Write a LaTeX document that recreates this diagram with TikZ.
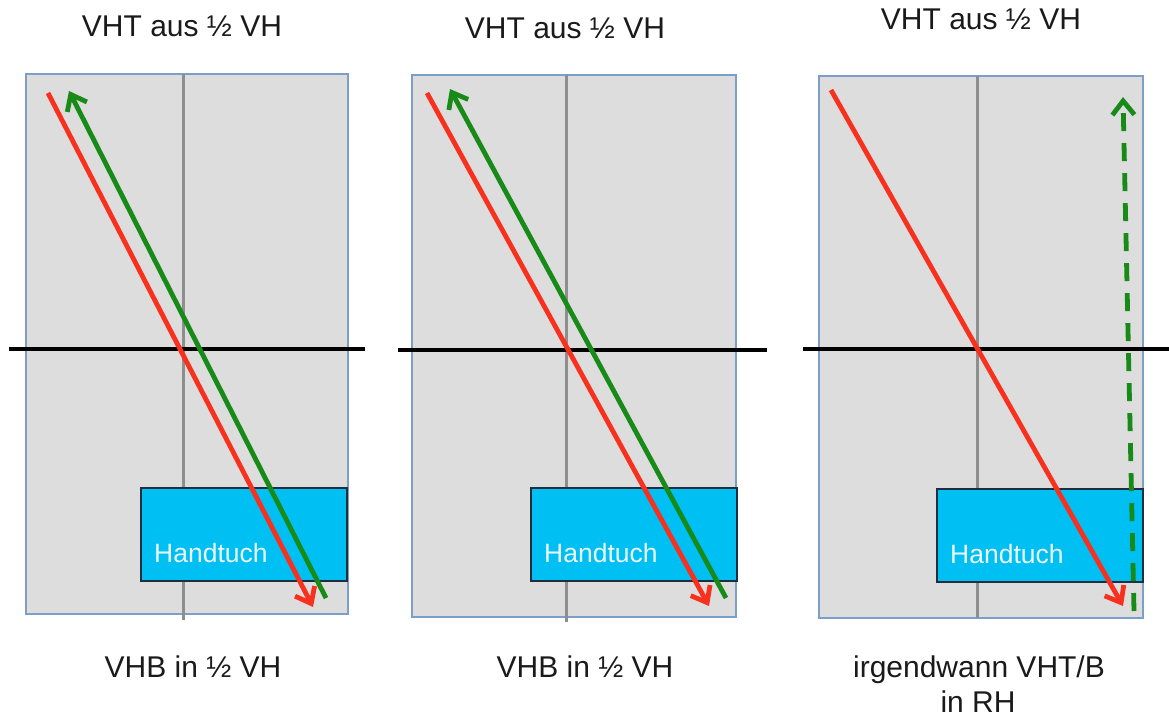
\documentclass[tikz,border=0pt]{standalone}
\usepackage{fontspec}
\setmainfont{Liberation Sans}
\usetikzlibrary{arrows.meta}
\definecolor{courtfill}{HTML}{DDDDDD}
\definecolor{courtedge}{HTML}{7C9FC9}
\definecolor{midline}{HTML}{8E8E8E}
\definecolor{towel}{HTML}{00BFF3}
\definecolor{toweledge}{HTML}{1E2E3E}
\definecolor{redarrow}{HTML}{F8301E}
\definecolor{greenarrow}{HTML}{178A17}
\definecolor{labeltext}{HTML}{1A1A1A}
\tikzset{
  court/.style={fill=courtfill, draw=courtedge, line width=2.6pt},
  centerline/.style={draw=midline, line width=3pt},
  netline/.style={draw=black, line width=3.3pt},
  towelbox/.style={fill=towel, draw=toweledge, line width=1.6pt},
  toweltext/.style={anchor=base west, inner sep=0pt, text=white!92!cyan, font=\fontsize{26.5}{30}\selectfont},
  title/.style={anchor=base, inner sep=0pt, text=labeltext, font=\fontsize{30}{36}\selectfont, align=center},
  redpath/.style={draw=redarrow, line width=4.8pt, -{Straight Barb[length=14pt,width=22pt]}},
  greenpath/.style={draw=greenarrow, line width=4.8pt, -{Straight Barb[length=14pt,width=22pt]}},
  greendash/.style={draw=greenarrow, line width=4.8pt, dash pattern=on 18pt off 12pt, -{Straight Barb[length=14pt,width=22pt]}}
}
\begin{document}
\begin{tikzpicture}[x=1pt,y=-1pt]
\useasboundingbox (0,0) rectangle (1169,717);

% ---------- Panel 1 ----------
\draw[court] (26,74) rectangle (348,614);
\draw[centerline] (183,74) -- (183,620);
\draw[netline] (9,349) -- (365,349);
\draw[towelbox] (141,488) rectangle (347,581);
\node[toweltext] (t1) at (154,562) {Handtuch};
\coordinate (r1s) at (48,93);
\coordinate (r1e) at (313,607);
\coordinate (g1s) at (326,598);
\coordinate (g1e) at (69,91);
\draw[greenpath] (g1s) -- (g1e);
\draw[redpath] (r1s) -- (r1e);
\node[title] (h1) at (182,37) {VHT aus ½ VH};
\node[title] (b1) at (193,677) {VHB in ½ VH};

% ---------- Panel 2 ----------
\draw[court] (412,75) rectangle (736,617);
\draw[centerline] (566,75) -- (566,622);
\draw[netline] (398,350) -- (767,350);
\draw[towelbox] (531,488) rectangle (737,581);
\node[toweltext] (t2) at (544,562) {Handtuch};
\coordinate (r2s) at (427,93);
\coordinate (r2e) at (709,606);
\coordinate (g2s) at (726,598);
\coordinate (g2e) at (450,89);
\draw[greenpath] (g2s) -- (g2e);
\draw[redpath] (r2s) -- (r2e);
\node[title] (h2) at (565,38) {VHT aus ½ VH};
\node[title] (b2) at (585,677) {VHB in ½ VH};

% ---------- Panel 3 ----------
\draw[court] (819,76) rectangle (1143,618);
\draw[centerline] (977,76) -- (977,618);
\draw[netline] (803,349) -- (1169,349);
\draw[towelbox] (937,489) rectangle (1143,582);
\node[toweltext] (t3) at (950,563) {Handtuch};
\coordinate (r3s) at (831,90);
\coordinate (r3e) at (1123,606);
\coordinate (g3s) at (1134,611);
\coordinate (g3e) at (1123,97);
\draw[greendash] (g3s) -- (g3e);
\draw[redpath] (r3s) -- (r3e);
\node[title] (h3) at (981,30) {VHT aus ½ VH};
\node[title] (b3) at (979,677) {irgendwann VHT/B};
\node[title] (b3b) at (978,712) {in RH};
\end{tikzpicture}
\end{document}
